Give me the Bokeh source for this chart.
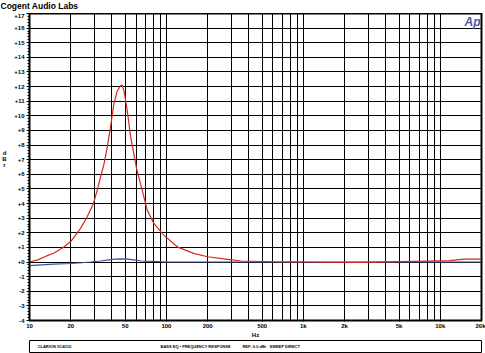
from bokeh.plotting import figure
from bokeh.models import FixedTicker, CustomJSTickFormatter, Label, ColumnDataSource
from bokeh.layouts import column, row
from bokeh.embed import file_html
from bokeh.resources import INLINE
from bokeh.core.properties import value

# ---- data ----
red_freq = [10, 11.5, 13.2, 15, 17.5, 20, 23.6, 26.4, 29.3, 31.2, 33, 35, 37, 39, 41.3,
            43.7, 46.2, 47.5, 49, 51.7, 54.7, 57.8, 60.5, 66.6, 72.4, 80.9, 95.7, 120,
            158, 200, 280, 350, 600, 1000, 2600, 6400, 11700, 15000, 20000]
red_db = [0.0, 0.15, 0.4, 0.6, 0.98, 1.4, 2.3, 3.1, 4.0, 4.9, 5.8, 6.7, 7.9, 9.2, 10.8,
          11.7, 12.05, 12.1, 11.7, 10.4, 8.6, 7.4, 6.4, 4.9, 3.55, 2.64, 1.84, 1.04,
          0.59, 0.36, 0.18, 0.07, 0.02, 0.0, -0.03, 0.05, 0.1, 0.2, 0.2]
blue_freq = [10, 15, 20, 24, 28, 33, 38, 42, 47, 52, 58, 65, 80, 100, 1000, 10000, 20000]
blue_db = [-0.25, -0.15, -0.1, -0.05, 0.0, 0.07, 0.15, 0.2, 0.22, 0.2, 0.15, 0.07, 0.04,
           0.0, 0.0, 0.0, 0.0]

x_ticks = [10, 20, 50, 100, 200, 500, 1000, 2000, 5000, 10000, 20000]
x_grid = [10, 20, 30, 40, 50, 60, 70, 80, 90, 100, 200, 300, 400, 500, 600, 700, 800, 900,
          1000, 2000, 3000, 4000, 5000, 6000, 7000, 8000, 9000, 10000, 20000]
y_ticks = list(range(-4, 18))
y_minor = [i / 5 for i in range(-20, 86)]

title_text = "Cogent Audio Labs"
y_label = "d\nB\nr"
x_label = "Hz"
footer_texts = ["CLARION XC4110", "BASS EQ \u2022 FREQUENCY RESPONSE", "REF: 0.0 dBr", "SWEEP DIRECT"]
footer_pos = [0.018, 0.29, 0.471, 0.531]

FONT = "Liberation Sans"
W = 485
STRIP = 9          # width of the strip holding the "dBr" label
LB = 29 - STRIP    # left border of the main plot
RB = 4
TOP = 13
MAIN_H = 327
FOOT_H = 13


def bare(fig):
    fig.axis.visible = False
    fig.grid.visible = False
    fig.outline_line_color = None
    return fig


# ---- title strip ----
t = bare(figure(width=W, height=TOP, x_range=(0, W), y_range=(0, TOP), output_backend="svg",
                toolbar_location=None, min_border=0))
t.text(x=[0], y=[TOP - 0.5], text=[title_text], text_baseline="top", text_align="left",
       text_font=value(FONT), text_font_style="bold", text_font_size="8.5px", text_color="black")

# ---- dBr strip ----
left_h = MAIN_H + FOOT_H
s = bare(figure(width=STRIP, height=left_h, x_range=(0, STRIP), y_range=(0, left_h),
                output_backend="svg", toolbar_location=None, min_border=0))
s.text(x=[STRIP / 2 - 0.5], y=[left_h - 145], text=[y_label], text_baseline="middle",
       text_align="center", text_line_height=1.0, text_font=value(FONT),
       text_font_style="bold", text_font_size="6px", text_color="black")

# ---- main plot ----
p = figure(width=W - STRIP, height=MAIN_H, x_axis_type="log", x_range=(10, 20000), y_range=(-4, 17),
           output_backend="svg", toolbar_location=None,
           min_border_left=LB, min_border_right=RB, min_border_top=0, min_border_bottom=18)

p.outline_line_color = "black"
p.outline_line_width = 2
p.outline_line_alpha = 1

p.xaxis.ticker = FixedTicker(ticks=x_ticks, minor_ticks=[])
p.xaxis.formatter = CustomJSTickFormatter(code="return tick >= 1000 ? (tick/1000) + 'k' : '' + tick;")
p.yaxis.ticker = FixedTicker(ticks=y_ticks, minor_ticks=y_minor)
p.yaxis.formatter = CustomJSTickFormatter(code="return (tick >= 0 ? '+' : '') + tick;")

for ax in (p.xaxis[0], p.yaxis[0]):
    ax.axis_line_color = "black"
    ax.major_tick_line_color = "black"
    ax.minor_tick_line_color = "black"
    ax.major_tick_in = 0
    ax.major_tick_out = 3
    ax.minor_tick_in = 0
    ax.minor_tick_out = 2
    ax.major_label_text_font = FONT
    ax.major_label_text_font_style = "bold"
    ax.major_label_text_font_size = "6px"
    ax.major_label_text_color = "black"
    ax.major_label_standoff = 2
    ax.axis_label_text_font = FONT
    ax.axis_label_text_font_style = "bold"
    ax.axis_label_text_font_size = "6px"
    ax.axis_label_text_color = "black"
    ax.axis_label_standoff = 0

p.xaxis.major_tick_out = 1
p.xaxis.major_label_standoff = 1
p.xaxis.axis_label = x_label

p.xgrid.ticker = FixedTicker(ticks=x_grid)
p.ygrid.ticker = FixedTicker(ticks=y_ticks)
for g in (p.xgrid[0], p.ygrid[0]):
    g.grid_line_color = "black"
    g.grid_line_alpha = 1
    g.grid_line_width = 1

blue_src = ColumnDataSource(data=dict(f=blue_freq, db=blue_db))
red_src = ColumnDataSource(data=dict(f=red_freq, db=red_db))
p.line("f", "db", source=blue_src, line_color="#3d4fa3", line_width=1.2)
p.line("f", "db", source=red_src, line_color="#d42a22", line_width=1.2)

p.add_layout(Label(x=20000, y=17, text="Ap", text_align="right", text_baseline="top",
                   x_offset=-1, y_offset=-1, text_font=FONT, text_font_style="bold italic",
                   text_font_size="12px", text_color="#4b5aa6"))

# ---- footer box ----
b = figure(width=W - STRIP, height=FOOT_H, x_range=(0, 1), y_range=(0, 1), output_backend="svg",
           toolbar_location=None, min_border_left=LB, min_border_right=RB,
           min_border_top=0, min_border_bottom=1)
b.axis.visible = False
b.grid.visible = False
b.outline_line_color = "black"
b.outline_line_width = 1
b.outline_line_alpha = 1
fsrc = ColumnDataSource(data=dict(x=footer_pos, y=[0.5] * len(footer_pos), t=footer_texts))
b.text("x", "y", text="t", source=fsrc, text_baseline="middle", text_align="left",
       text_font=value(FONT), text_font_style="bold", text_font_size="4px", text_color="black")

layout = column(t, row(s, column(p, b, spacing=0), spacing=0), spacing=0)
open("out.html", "w").write(file_html(layout, INLINE))
